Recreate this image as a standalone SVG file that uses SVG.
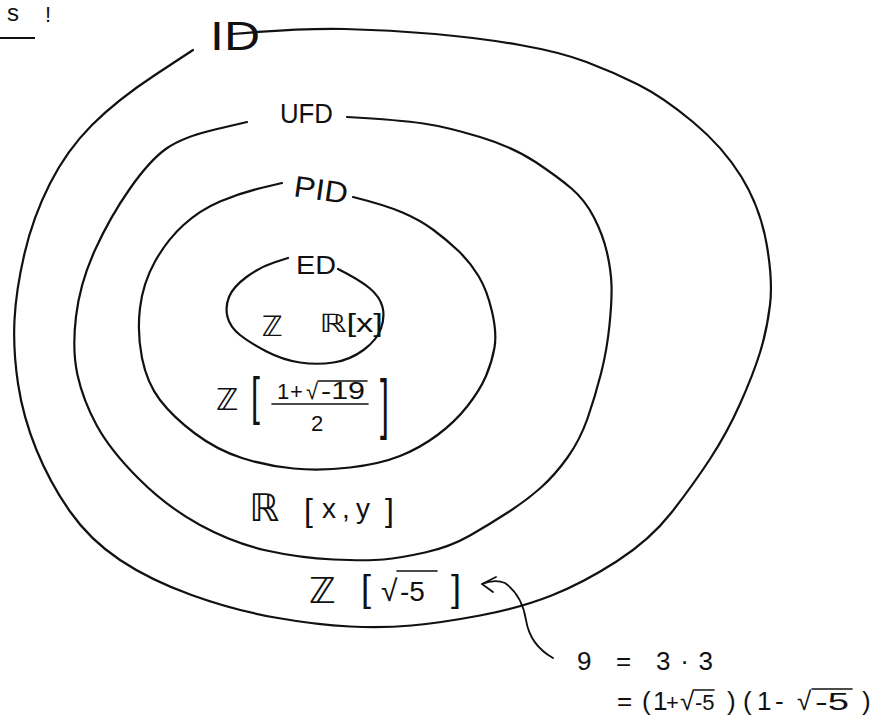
<svg xmlns="http://www.w3.org/2000/svg" width="876" height="716" viewBox="0 0 876 716">
<style>
.ring{fill:none;stroke:#111;stroke-width:2.2;stroke-linecap:round;stroke-linejoin:round}
.lbl{font-family:"Liberation Sans","DejaVu Sans",sans-serif;fill:#111}
.math{font-family:"Liberation Sans","DejaVu Sans",sans-serif;fill:#111}
.bar{stroke:#111;stroke-width:1.6;stroke-linecap:round}
.conn{fill:none;stroke:#111;stroke-width:1.8;stroke-linecap:round;stroke-linejoin:round}
</style>
<rect width="876" height="716" fill="#fff"/>

<g id="heading">
<text class="lbl" x="7" y="21" font-size="24">s</text>
<text class="lbl" x="45" y="22" font-size="22">!</text>
<line x1="0" y1="38" x2="35" y2="38" stroke="#111" stroke-width="2"/>
</g>

<g id="ID">
<path class="ring" d="M232,34 Q300,28 345,29 Q390,30 435,34 Q480,38 520,45 Q560,52 586.5,62 Q613,72 638,84.5 Q663,97 693,122 Q723,147 741.5,177 Q760,207 766.5,243.5 Q773,280 770,305 Q767,330 760,352.5 Q753,375 740,404 Q727,433 710,459 Q693,485 671.5,512.5 Q650,540 616.5,561.5 Q583,583 551.5,595.5 Q520,608 480,615.5 Q440,623 411.5,625.5 Q383,628 350,626.5 Q317,625 275,617.5 Q233,610 191.5,595 Q150,580 120,560 Q90,540 70,511.5 Q50,483 36.5,450 Q23,417 18,383.5 Q13,350 14.5,320 Q16,290 24.5,253.5 Q33,217 50,183.5 Q67,150 92,125 Q117,100 155,75 L193,50"/>
<text class="lbl" x="210" y="50" font-size="40" textLength="50" lengthAdjust="spacingAndGlyphs">ID</text>
<g id="ex-z-sqrt-5">
<text class="math" x="309" y="603" font-size="36">ℤ</text>
<text class="math" x="361" y="601" font-size="36">[</text>
<text class="math" x="381" y="601" font-size="30">√</text>
<text class="math" x="400" y="601" font-size="28">-5</text>
<line class="bar" x1="397" y1="571" x2="437" y2="571"/>
<text class="math" x="451" y="601" font-size="36">]</text>
</g>
</g>

<g id="UFD">
<path class="ring" d="M347,117 Q400,120 423.5,123.5 Q447,127 480,137 Q513,147 535.5,162 Q558,177 571.5,188.5 Q585,200 594,217.5 Q603,235 607,252.5 Q611,270 611.5,285 Q612,300 609.5,325 Q607,350 601,373.5 Q595,397 587.5,418.5 Q580,440 567.5,457.5 Q555,475 541,487.5 Q527,500 508.5,512 Q490,524 470,535.5 Q450,547 425,552.5 Q400,558 383.5,559.5 Q367,561 333.5,559.5 Q300,558 266.5,550.5 Q233,543 200,525 Q167,507 138.5,478.5 Q110,450 96.5,425 Q83,400 77.5,375 Q72,350 76,316.5 Q80,283 95,250 Q110,217 130,188.5 Q150,160 166.5,148.5 Q183,137 215,129.5 L247,122"/>
<text class="lbl" x="280" y="123" font-size="27" textLength="53" lengthAdjust="spacingAndGlyphs">UFD</text>
<g id="ex-r-xy">
<text class="math" x="249" y="521" font-size="38">ℝ</text>
<text class="math" x="304" y="521" font-size="32">[</text>
<text class="math" x="322" y="518" font-size="28" textLength="48" lengthAdjust="spacing">x,y</text>
<text class="math" x="385" y="521" font-size="32">]</text>
</g>
</g>

<g id="PID">
<path class="ring" d="M353,197 Q385,205 402.5,212.5 Q420,220 433.5,230 Q447,240 458.5,251 Q470,262 478.5,276 Q487,290 492,311.5 Q497,333 494.5,347.5 Q492,362 486,376 Q480,390 467.5,406 Q455,422 437.5,435 Q420,448 400,456 Q380,464 350,467.5 Q320,471 293.5,468.5 Q267,466 242,458 Q217,450 195,433.5 Q173,417 160,400 Q147,383 142,358 Q137,333 140,308 Q143,283 155,261.5 Q167,240 183.5,225 Q200,210 220,201.5 Q240,193 261,188 L282,183"/>
<text class="lbl" x="294" y="200" font-size="30" textLength="54" lengthAdjust="spacingAndGlyphs" transform="rotate(8 320 190)">PID</text>
<g id="ex-z-frac">
<text class="math" x="216" y="410" font-size="30">ℤ</text>
<text class="math" transform="translate(251,414) scale(1,1.6)" font-size="32">[</text>
<text class="math" x="277" y="399" font-size="22">1</text>
<text class="math" x="290" y="399" font-size="22">+</text>
<text class="math" x="306" y="399" font-size="22">√</text>
<text class="math" x="321" y="399" font-size="23" textLength="44" lengthAdjust="spacingAndGlyphs">-19</text>
<line class="bar" x1="318" y1="381" x2="367" y2="381"/>
<line class="bar" x1="272" y1="404" x2="368" y2="404"/>
<text class="math" x="311" y="431" font-size="22">2</text>
<text class="math" transform="translate(380,426) scale(1,2.1)" font-size="32">]</text>
</g>
</g>

<g id="ED">
<path class="ring" d="M338,269 Q360,280 370,288.5 Q380,297 382.5,307 Q385,317 381,328.5 Q377,340 363.5,350 Q350,360 333.5,362.5 Q317,365 300,362.5 Q283,360 266.5,351.5 Q250,343 240,335 Q230,327 227.5,317 Q225,307 229,297 Q233,287 246.5,277 Q260,267 274,262.5 L288,258"/>
<text class="lbl" x="296" y="274" font-size="26" textLength="40" lengthAdjust="spacingAndGlyphs">ED</text>
<text class="math" x="262" y="336" font-size="28">ℤ</text>
<text class="math" x="319" y="332" font-size="25" textLength="64" lengthAdjust="spacingAndGlyphs">ℝ[x]</text>
</g>

<g id="connectors">
<path class="conn" d="M553,658 Q530,645 526,620 Q522,595 505,583 Q495,579 482,584"/>
<path class="conn" d="M496,577 L482,584 L493,592"/>
</g>

<g id="note">
<text class="math" x="577" y="670" font-size="26">9</text>
<text class="math" x="616" y="670" font-size="26">=</text>
<text class="math" x="656" y="670" font-size="26" textLength="57" lengthAdjust="spacing">3·3</text>
<text class="math" x="617" y="710" font-size="26">=</text>
<text class="math" x="642" y="710" font-size="26">(</text>
<text class="math" x="653" y="710" font-size="26">1</text>
<text class="math" x="666" y="710" font-size="22">+</text>
<text class="math" x="680" y="710" font-size="26">√</text>
<text class="math" x="695" y="710" font-size="22">-5</text>
<line class="bar" x1="694" y1="690" x2="714" y2="690"/>
<text class="math" x="727" y="710" font-size="26">)</text>
<text class="math" x="743" y="710" font-size="26">(</text>
<text class="math" x="757" y="710" font-size="26">1</text>
<text class="math" x="775" y="710" font-size="26">-</text>
<text class="math" x="797" y="710" font-size="26">√</text>
<text class="math" x="815" y="710" font-size="24" textLength="34" lengthAdjust="spacingAndGlyphs">-5</text>
<line class="bar" x1="812" y1="689" x2="852" y2="689"/>
<text class="math" x="862" y="710" font-size="26">)</text>
</g>
</svg>
